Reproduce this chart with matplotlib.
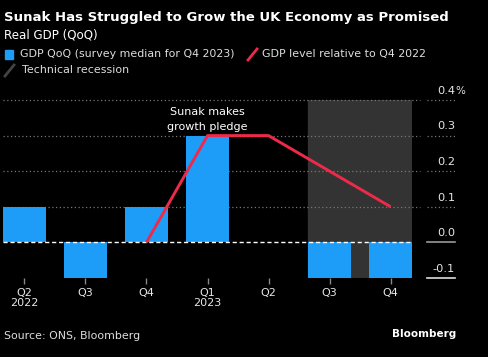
import matplotlib.pyplot as plt
from matplotlib.lines import Line2D
from matplotlib.patches import Rectangle
import matplotlib.transforms as mtransforms

quarters = ['Q2\n2022', 'Q3', 'Q4', 'Q1\n2023', 'Q2', 'Q3', 'Q4']
gdp_qoq = [0.1, -0.1, 0.1, 0.3, 0.0, -0.1, -0.1]
level_idx = [2, 3, 4, 5, 6]
gdp_level = [0.0, 0.3, 0.3, 0.2, 0.1]
yticks = [-0.1, 0.0, 0.1, 0.2, 0.3, 0.4]
ytick_labels = ['-0.1', '0.0', '0.1', '0.2', '0.3', '0.4']

blue = '#1e9df8'
red = '#ee2a4a'
shade = '#333333'
W, H = 489, 357

plt.rcParams['font.family'] = ['DejaVu Sans']
fig = plt.figure(figsize=(W / 100, H / 100), dpi=100, facecolor='black')

# plot area in pixels: x 3..412, y 100..278
ax = fig.add_axes([3 / W, 1 - 278 / H, 409 / W, 178 / H])
ax.set_facecolor('black')
ax.set_xlim(-0.35, 6.35)
ax.set_ylim(-0.1, 0.4)
for s in ax.spines.values():
    s.set_visible(False)

# technical recession shading
ax.axvspan(4.65, 6.35, color=shade, zorder=0)

# gridlines (extend into label area)
for v in [0.1, 0.2, 0.3, 0.4]:
    ax.axhline(v, 0, 1.02, color='#777777', lw=0.9, ls=(0, (1, 2)), clip_on=False, zorder=1)
    ax.axhline(v, 1.037, 1.105, color='#777777', lw=0.9, ls=(0, (1, 2)), clip_on=False, zorder=1)
ax.axhline(0, 1.037, 1.105, color='#999999', lw=1.2, clip_on=False)
ax.axhline(-0.1, 1.037, 1.105, color='#dddddd', lw=1.2, clip_on=False)

ax.bar(range(len(quarters)), gdp_qoq, width=0.7, color=blue, zorder=2)
ax.axhline(0, 0, 1, color='white', lw=1, ls=(0, (3, 2)), zorder=3)
ax.plot(level_idx, gdp_level, color=red, lw=2.1, zorder=4, solid_capstyle='butt')

ax.text(3, 0.31, 'Sunak makes\ngrowth pledge', color='white', fontsize=8,
        ha='center', va='bottom', linespacing=1.6, zorder=5)

# right-hand y labels
trans = mtransforms.blended_transform_factory(ax.transAxes, ax.transData)
for v, lab in zip(yticks, ytick_labels):
    ax.text(1.105, v + 0.012, lab, transform=trans, color='#e6e6e6', fontsize=8.2,
            ha='right', va='bottom', clip_on=False)
ax.text(1.105, yticks[-1] + 0.012, '%', transform=trans, color='#e6e6e6', fontsize=7.5,
        ha='left', va='bottom', clip_on=False)
ax.set_yticks([])

ax.set_xticks(range(len(quarters)))
ax.set_xticklabels(quarters, color='#e6e6e6', fontsize=8, linespacing=1.05)
ax.tick_params(axis='x', length=4.5, color='#888888', width=1, pad=2.5)

# header
fig.text(4 / W, 1 - 17 / H, 'Sunak Has Struggled to Grow the UK Economy as Promised',
         color='white', fontsize=9.5, fontweight='bold', va='center')
fig.text(4 / W, 1 - 35 / H, 'Real GDP (QoQ)', color='white', fontsize=8.6, va='center')

# legend
fig.patches.append(Rectangle((5 / W, 1 - 59 / H), 8 / W, 9 / H, color=blue,
                             transform=fig.transFigure, figure=fig))
fig.text(20 / W, 1 - 54 / H, 'GDP QoQ (survey median for Q4 2023)', color='#dddddd',
         fontsize=7.9, va='center')
fig.lines.append(Line2D([248 / W, 257 / W], [1 - 60 / H, 1 - 49 / H], color=red, lw=2,
                        transform=fig.transFigure))
fig.text(262 / W, 1 - 54 / H, 'GDP level relative to Q4 2022', color='#dddddd',
         fontsize=7.9, va='center')
fig.lines.append(Line2D([5 / W, 14 / W], [1 - 76 / H, 1 - 65 / H], color='#444444', lw=2,
                        transform=fig.transFigure))
fig.text(22 / W, 1 - 70 / H, 'Technical recession', color='#dddddd',
         fontsize=7.9, va='center')

# footer
fig.text(4 / W, 1 - 336 / H, 'Source: ONS, Bloomberg', color='#dddddd', fontsize=7.9, va='center')
fig.text(456 / W, 1 - 334 / H, 'Bloomberg', color='white', fontsize=7.5,
         fontweight='bold', ha='right', va='center')

fig.savefig('out.png', dpi=100, facecolor='black')
